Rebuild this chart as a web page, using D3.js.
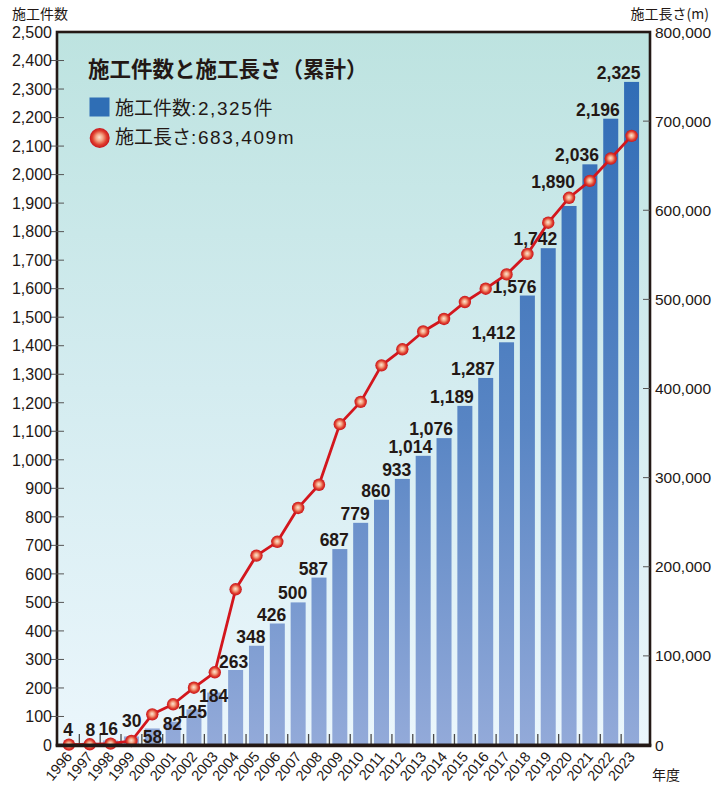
<!DOCTYPE html>
<html lang="ja">
<head>
<meta charset="utf-8">
<script src="https://cdn.jsdelivr.net/npm/d3@7/dist/d3.min.js"></script>
<style>
  html, body { margin: 0; padding: 0; background: #ffffff; }
  svg { display: block; }
  text { fill: #231815; }
</style>
</head>
<body>
<svg id="chart" width="726" height="787"></svg>
<script>
// 年度
const years = [1996, 1997, 1998, 1999, 2000, 2001, 2002, 2003, 2004, 2005,
  2006, 2007, 2008, 2009, 2010, 2011, 2012, 2013, 2014, 2015,
  2016, 2017, 2018, 2019, 2020, 2021, 2022, 2023];
// 施工件数（累計）
const counts = [4, 8, 16, 30, 58, 82, 125, 184, 263, 348,
  426, 500, 587, 687, 779, 860, 933, 1014, 1076, 1189,
  1287, 1412, 1576, 1742, 1890, 2036, 2196, 2325];
// 施工長さ（累計, m）
const lengths = [400, 800, 1500, 4500, 34400, 45700, 64300, 81600, 174700, 212500,
  228000, 266000, 292000, 360000, 385000, 426000, 444000, 464000, 478000, 497000,
  512000, 528000, 551000, 586000, 614000, 633000, 658000, 683409];
const leftTicks = d3.range(0, 2501, 100);
const rightTicks = d3.range(0, 800001, 100000);

const title = "施工件数と施工長さ（累計）";
const legendCount = "施工件数:2,325件";
const legendLength = "施工長さ:683,409m";

const svg = d3.select("#chart");
const ink = "#231815";
const latin = "'Liberation Sans', Arial, 'Noto Sans CJK JP', sans-serif";
const cjk = "'Noto Sans CJK JP', 'Liberation Sans', sans-serif";

const plot = { left: 57, right: 650, top: 32, bottom: 745 };

const x = d3.scaleBand()
  .domain(years)
  .range([58.5, 642])
  .paddingInner(0.28)
  .paddingOuter(0.14);
const yCount = d3.scaleLinear().domain([0, 2500]).range([plot.bottom, plot.top]);
const yLen = d3.scaleLinear().domain([0, 800000]).range([plot.bottom, plot.top]);
const cx = d => x(d) + x.bandwidth() / 2;

const defs = svg.append("defs");

const bg = defs.append("linearGradient")
  .attr("id", "bg").attr("x1", 0).attr("y1", 0).attr("x2", 0).attr("y2", 1);
bg.append("stop").attr("offset", 0).attr("stop-color", "#bde3e0");
bg.append("stop").attr("offset", 0.5).attr("stop-color", "#d4ecf0");
bg.append("stop").attr("offset", 1).attr("stop-color", "#ebf6fc");

const barGrad = defs.append("linearGradient")
  .attr("id", "barGrad").attr("gradientUnits", "userSpaceOnUse")
  .attr("x1", 0).attr("y1", plot.top).attr("x2", 0).attr("y2", plot.bottom);
barGrad.append("stop").attr("offset", 0).attr("stop-color", "#2b69b4");
barGrad.append("stop").attr("offset", 0.55).attr("stop-color", "#5885c4");
barGrad.append("stop").attr("offset", 1).attr("stop-color", "#93aad9");

const dot = defs.append("radialGradient")
  .attr("id", "dot").attr("cx", "50%").attr("cy", "50%").attr("r", "50%")
  .attr("fx", "48%").attr("fy", "46%");
dot.append("stop").attr("offset", 0).attr("stop-color", "#fde3d2");
dot.append("stop").attr("offset", 0.35).attr("stop-color", "#f3a585");
dot.append("stop").attr("offset", 0.7).attr("stop-color", "#e0402f");
dot.append("stop").attr("offset", 1).attr("stop-color", "#c8141c");

// plot background
svg.append("rect")
  .attr("x", plot.left).attr("y", plot.top)
  .attr("width", plot.right - plot.left).attr("height", plot.bottom - plot.top)
  .attr("fill", "url(#bg)");

// bars
svg.append("g").selectAll("rect")
  .data(years)
  .join("rect")
  .attr("x", d => x(d))
  .attr("width", x.bandwidth())
  .attr("y", (d, i) => yCount(counts[i]))
  .attr("height", (d, i) => plot.bottom - yCount(counts[i]))
  .attr("fill", "url(#barGrad)");

// category separators along the baseline
const step = x.step();
svg.append("g").selectAll("line")
  .data(years.slice(1))
  .join("line")
  .attr("x1", (d, i) => 58.5 + (i + 1) * step)
  .attr("x2", (d, i) => 58.5 + (i + 1) * step)
  .attr("y1", plot.bottom - 11).attr("y2", plot.bottom)
  .attr("stroke", "#4a4a4a").attr("stroke-width", 1.3);

// value labels, right-aligned on each bar; some are moved to keep clear of the line
const labelShift = {
  1996: [-5, -5], 1997: [-3.5, -4], 1998: [-1.5, -2.5], 1999: [1, -6.5],
  2000: [1, 17.5], 2001: [0, 11.5], 2002: [4, 12], 2003: [4.5, 12.5], 2004: [3.5, 1],
  2020: [-3, -15]
};
svg.append("g").selectAll("text")
  .data(years)
  .join("text")
  .attr("x", d => x(d) + x.bandwidth() + 1.5 + (labelShift[d] ? labelShift[d][0] : 0))
  .attr("y", (d, i) => yCount(counts[i]) - 3 + (labelShift[d] ? labelShift[d][1] : 0))
  .attr("text-anchor", "end")
  .attr("font-family", latin)
  .attr("font-weight", "bold")
  .attr("font-size", 17.5)
  .text((d, i) => d3.format(",")(counts[i]));

// length line and markers
const line = d3.line()
  .x(d => cx(d.year))
  .y(d => yLen(d.v));
const pts = years.map((year, i) => ({ year, v: lengths[i] }));
svg.append("path")
  .datum(pts)
  .attr("d", line)
  .attr("fill", "none")
  .attr("stroke", "#d3161d")
  .attr("stroke-width", 2.8)
  .attr("stroke-linejoin", "round");
svg.append("g").selectAll("circle")
  .data(pts)
  .join("circle")
  .attr("cx", d => cx(d.year))
  .attr("cy", d => yLen(d.v))
  .attr("r", 6.2)
  .attr("fill", "url(#dot)");

// frame
svg.append("rect")
  .attr("x", plot.left).attr("y", plot.top)
  .attr("width", plot.right - plot.left).attr("height", plot.bottom - plot.top)
  .attr("fill", "none").attr("stroke", ink).attr("stroke-width", 2.6);
svg.append("line")
  .attr("x1", plot.left - 1.3).attr("x2", plot.right + 1.3)
  .attr("y1", plot.bottom + 0.5).attr("y2", plot.bottom + 0.5)
  .attr("stroke", ink).attr("stroke-width", 3.4);

// left axis
const leftAxis = svg.append("g");
leftAxis.selectAll("line")
  .data(leftTicks.filter(t => t > 0 && t < 2500))
  .join("line")
  .attr("x1", plot.left - 7).attr("x2", plot.left + 7)
  .attr("y1", d => yCount(d)).attr("y2", d => yCount(d))
  .attr("stroke", "#555").attr("stroke-width", 1);
leftAxis.selectAll("text")
  .data(leftTicks)
  .join("text")
  .attr("x", 52)
  .attr("y", d => yCount(d))
  .attr("dy", "0.36em")
  .attr("text-anchor", "end")
  .attr("font-family", latin)
  .attr("font-size", 16)
  .text(d => d3.format(",")(d));

// right axis
const rightAxis = svg.append("g");
rightAxis.selectAll("line")
  .data(rightTicks.filter(t => t > 0 && t < 800000))
  .join("line")
  .attr("x1", plot.right - 7).attr("x2", plot.right)
  .attr("y1", d => yLen(d)).attr("y2", d => yLen(d))
  .attr("stroke", "#555").attr("stroke-width", 1);
rightAxis.selectAll("text")
  .data(rightTicks)
  .join("text")
  .attr("x", 655)
  .attr("y", d => yLen(d))
  .attr("dy", "0.36em")
  .attr("text-anchor", "start")
  .attr("font-family", latin)
  .attr("font-size", 15.5)
  .text(d => d3.format(",")(d));

// year labels
svg.append("g").selectAll("text")
  .data(years)
  .join("text")
  .attr("transform", d => `translate(${cx(d) + 4},${plot.bottom + 12}) rotate(-50)`)
  .attr("text-anchor", "end")
  .attr("font-family", latin)
  .attr("font-size", 14.5)
  .text(d => d);

// axis titles
svg.append("text").attr("x", 12).attr("y", 19)
  .attr("font-family", cjk).attr("font-size", 14).text("施工件数");
svg.append("text").attr("x", 709).attr("y", 19).attr("text-anchor", "end")
  .attr("font-family", cjk).attr("font-size", 14).text("施工長さ(m)");
svg.append("text").attr("x", 652).attr("y", 780)
  .attr("font-family", cjk).attr("font-size", 14).text("年度");

// title and legend
svg.append("text").attr("x", 88).attr("y", 77)
  .attr("font-family", cjk).attr("font-weight", "bold").attr("font-size", 21.5)
  .text(title);

// legend text: Japanese runs plain, numeric runs widely tracked
function legendText(str, px, py) {
  const t = svg.append("text").attr("x", px).attr("y", py)
    .attr("font-family", latin).attr("font-size", 19);
  const runs = str.match(/[\u3000-\u9fff]+|[^\u3000-\u9fff]+/g);
  runs.forEach(r => {
    const cjkRun = /[\u3000-\u9fff]/.test(r);
    t.append("tspan")
      .attr("font-family", cjkRun ? cjk : latin)
      .attr("letter-spacing", cjkRun ? 0 : 1.6)
      .text(r);
  });
}
svg.append("rect").attr("x", 89.5).attr("y", 97.5).attr("width", 20).attr("height", 19)
  .attr("fill", "#2f6eb5");
legendText(legendCount, 115, 115);
svg.append("circle").attr("cx", 99.7).attr("cy", 138).attr("r", 10)
  .attr("fill", "url(#dot)");
legendText(legendLength, 115, 144);
</script>
</body>
</html>
